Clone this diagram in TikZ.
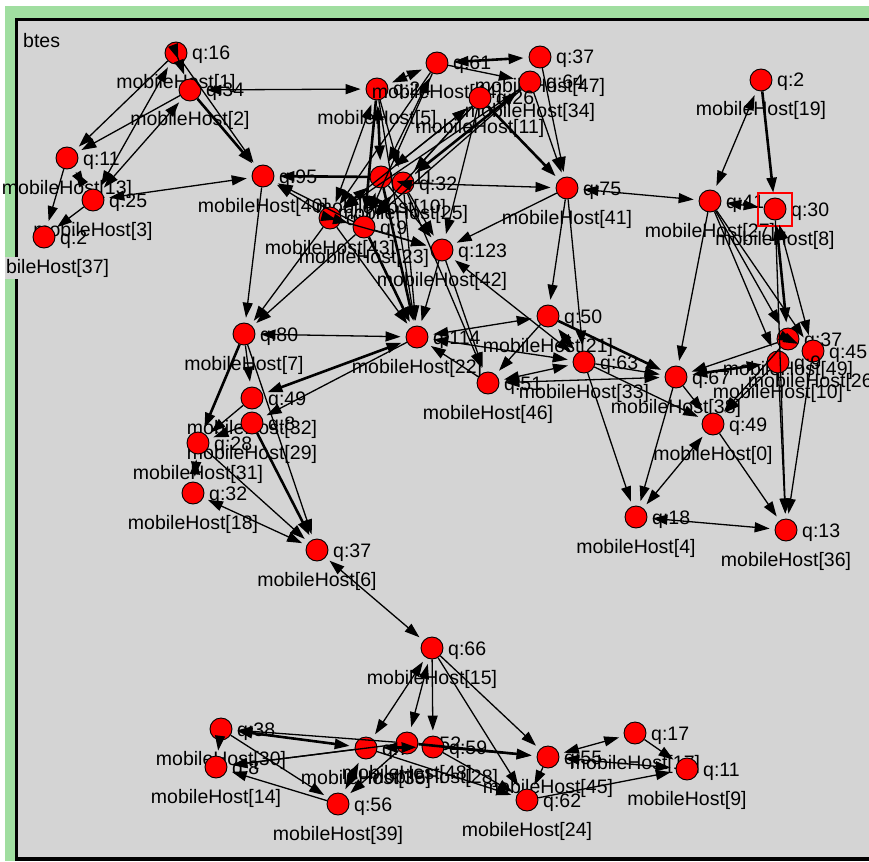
\documentclass[tikz,border=0pt]{standalone}
\usepackage{fontspec}
\setmainfont{Liberation Sans}
\usetikzlibrary{arrows.meta}
\definecolor{bgwin}{RGB}{212,212,212}
\definecolor{frgreen}{RGB}{160,222,160}
\newcommand\hfont{\fontsize{19.5}{20}\selectfont}
\newcommand\hn[5]{%
  \node[hostc] (#1) at (#2,#3) {};
  \node[qlab] (#1q) at (#2+16,#3+7) {#4};
  \node[hlab] (#1h) at (#2,#3+36) {#5};}
\tikzset{
  hostc/.style={circle, fill=red, draw=black, line width=0.9pt, minimum size=22pt, inner sep=0pt},
  qlab/.style={anchor=base west, inner sep=0pt, font=\hfont},
  hlab/.style={anchor=base, inner sep=0pt, font=\hfont},
  ed/.style={line width=1.3pt, -{Triangle[length=15pt,width=10pt]}, shorten >=5pt},
  bd/.style={line width=1.3pt, {Triangle[length=15pt,width=10pt]}-{Triangle[length=15pt,width=10pt]}, shorten >=5pt, shorten <=5pt},
  thk/.style={line width=2.6pt}
}
\begin{document}
\begin{tikzpicture}[x=1pt,y=-1pt]
\useasboundingbox (0,0) rectangle (869,861);
\fill[white] (0,0) rectangle (869,861);
\fill[frgreen] (5,6) rectangle (869,861);
\fill[black] (15,18) rectangle (869,861);
\fill[bgwin] (18,21) rectangle (869,857);
\node[anchor=base west, inner sep=0pt, font=\hfont] (title) at (23,48) {btes};

% ---------- nodes ----------
\hn{n16}{176}{53}{q:16}{mobileHost[1]}
\hn{n34}{190}{90}{q:34}{mobileHost[2]}
\hn{n11}{67}{158}{q:11}{mobileHost[13]}
\hn{n25}{93}{200}{q:25}{mobileHost[3]}
\node[hostc] (n2) at (44,237) {};
\node[qlab] (n2q) at (60,244) {q:2};
\begin{scope}
\clip (5,0) rectangle (869,861);
\node[hlab, fill=bgwin, inner xsep=0pt, inner ysep=2pt] (n2h) at (44,273) {mobileHost[37]};
\end{scope}
\hn{n95}{263}{176}{q:95}{mobileHost[40]}
\hn{n5}{377}{89}{q:24}{mobileHost[5]}
\hn{n61}{437}{63}{q:61}{mobileHost[44]}
\hn{n37}{540}{57}{q:37}{mobileHost[47]}
\hn{n64}{530}{82}{q:64}{mobileHost[34]}
\hn{n11b}{480}{98}{q:26}{mobileHost[11]}
\hn{h1}{381}{177}{q:11}{mobileHost[10]}
\hn{h2}{403}{183}{q:32}{mobileHost[25]}
\hn{h3}{330}{218}{q:4}{mobileHost[43]}
\hn{h4}{364}{227}{q:9}{mobileHost[23]}
\hn{n123}{442}{250}{q:123}{mobileHost[42]}
\hn{n75}{567}{188}{q:75}{mobileHost[41]}
\hn{n19}{761}{80}{q:2}{mobileHost[19]}
\hn{n41}{710}{201}{q:41}{mobileHost[27]}
\hn{n30}{775}{209}{q:30}{mobileHost[8]}
\hn{rc1}{788}{339}{q:37}{mobileHost[49]}
\hn{rc2}{813}{351}{q:45}{mobileHost[26]}
\hn{rc3}{778}{362}{q:9}{mobileHost[10]}
\hn{n80}{244}{334}{q:80}{mobileHost[7]}
\hn{n22}{417}{337}{q:114}{mobileHost[22]}
\hn{n49}{252}{398}{q:49}{mobileHost[32]}
\hn{n48}{252}{423}{q:8}{mobileHost[29]}
\hn{n20}{198}{443}{q:28}{mobileHost[31]}
\hn{n32}{193}{493}{q:32}{mobileHost[18]}
\hn{n37b}{317}{550}{q:37}{mobileHost[6]}
\hn{n46}{488}{383}{q:51}{mobileHost[46]}
\hn{n50}{548}{316}{q:50}{mobileHost[21]}
\hn{n63}{584}{362}{q:63}{mobileHost[33]}
\hn{n67}{676}{377}{q:67}{mobileHost[38]}
\hn{n0}{713}{424}{q:49}{mobileHost[0]}
\hn{n4}{636}{517}{q:18}{mobileHost[4]}
\hn{n36}{786}{530}{q:13}{mobileHost[36]}
\hn{n66}{432}{648}{q:66}{mobileHost[15]}
\hn{n38}{221}{729}{q:38}{mobileHost[30]}
\hn{n8b}{216}{767}{q:8}{mobileHost[14]}
\hn{n56}{338}{804}{q:56}{mobileHost[39]}
\hn{b1}{366}{748}{q:7}{mobileHost[35]}
\hn{b2}{407}{743}{q:52}{mobileHost[48]}
\hn{b3}{433}{747}{q:59}{mobileHost[28]}
\hn{n55}{548}{757}{q:55}{mobileHost[45]}
\hn{n62}{527}{800}{q:62}{mobileHost[24]}
\hn{n17}{635}{733}{q:17}{mobileHost[17]}
\hn{n11c}{687}{769}{q:11}{mobileHost[9]}

\draw[red, line width=1.2pt] (758,193) rectangle (792,226);

% ---------- edges: top left ----------
\draw[bd] (n16) -- (n34);
\draw[ed] (n16) -- (n11);
\draw[ed] (n34) -- (n11);
\draw[bd] (n16) -- (n25);
\draw[bd] (n34) -- (n25);
\draw[ed, thk] (n34) -- (n95);
\draw[ed] (n16) -- (n95);
\draw[bd] (n34) -- (n5);
\draw[bd] (n11) -- (n25);
\draw[ed] (n11) -- (n2);
\draw[ed] (n25) -- (n2);
\draw[bd] (n25) -- (n95);
\draw[ed] (n95) -- (n80);
\draw[ed] (h3) -- (n95);
\draw[ed, thk] (h1) -- (n95);
\draw[ed] (h4) -- (n95);
% ---------- hub ----------
\draw[bd, thk] (n5) -- (h1);
\draw[bd] (n5) -- (h3);
\draw[ed, thk] (n5) -- (h4);
\draw[ed] (n5) -- (n22);
\draw[ed] (n5) -- (h2);
\draw[bd] (n61) -- (h1);
\draw[ed] (n61) -- (h4);
\draw[ed] (n61) -- (h3);
\draw[bd] (n61) -- (n5);
\draw[bd, thk] (n61) -- (n37);
\draw[ed] (n61) -- (n64);
\draw[bd] (n11b) -- (h1);
\draw[bd] (n11b) -- (h3);
\draw[ed] (n11b) -- (h4);
\draw[ed] (n11b) -- (h2);
\draw[ed] (n11b) -- (n123);
\draw[bd, thk] (n64) -- (h2);
\draw[ed] (n64) -- (h3);
\draw[ed] (n64) -- (h4);
\draw[ed] (n37) -- (n75);
\draw[ed] (n64) -- (n75);
\draw[ed, thk] (n11b) -- (n75);
\draw[ed] (h2) -- (n75);
\draw[ed] (h1) -- (n123);
\draw[ed] (h2) -- (n123);
\draw[ed] (h3) -- (n123);
\draw[ed] (h4) -- (n123);
\draw[ed, thk] (h1) -- (n22);
\draw[ed] (h2) -- (n22);
\draw[ed] (h3) -- (n22);
\draw[ed, thk] (h4) -- (n22);
\draw[ed] (h3) -- (n80);
\draw[ed] (h4) -- (n80);
\draw[ed] (h2) -- (n46);
\draw[bd, thk] (h1) -- (h3);
\draw[bd, thk] (h2) -- (h4);
\draw[bd, thk] (h1) -- (h2);
\draw[bd, thk] (h3) -- (h4);
\draw[bd] (h1) -- (h4);
% ---------- middle ----------
\draw[ed] (n75) -- (n123);
\draw[bd] (n75) -- (n41);
\draw[ed] (n75) -- (n50);
\draw[ed] (n75) -- (n63);
\draw[ed] (n123) -- (n22);
\draw[bd] (n123) -- (n63);
\draw[ed] (n123) -- (n46);
\draw[bd] (n50) -- (n22);
\draw[ed] (n50) -- (n46);
\draw[bd] (n50) -- (n63);
\draw[ed, thk] (n50) -- (n67);
\draw[bd] (n63) -- (n46);
\draw[ed] (n63) -- (n67);
\draw[ed] (n63) -- (n4);
\draw[ed] (n46) -- (n22);
\draw[bd] (n63) -- (n22);
\draw[bd] (n46) -- (n67);
\draw[ed] (n63) -- (n0);
% ---------- right ----------
\draw[bd] (n19) -- (n41);
\draw[ed, thk] (n19) -- (n30);
\draw[bd] (n41) -- (n30);
\draw[ed] (n41) -- (n67);
\draw[ed] (n41) -- (rc1);
\draw[ed] (n41) -- (rc3);
\draw[ed] (n41) -- (rc2);
\draw[bd, thk] (n30) -- (rc1);
\draw[ed] (n30) -- (n36);
\draw[bd] (n30) -- (rc2);
\draw[ed] (rc1) -- (n67);
\draw[bd, thk] (rc3) -- (n67);
\draw[ed] (rc3) -- (n0);
\draw[ed] (rc1) -- (n0);
\draw[ed] (rc3) -- (n36);
\draw[ed] (rc2) -- (n36);
\draw[bd] (rc1) -- (rc2);
\draw[ed] (n67) -- (n0);
\draw[ed] (n67) -- (n4);
\draw[bd] (n0) -- (n4);
\draw[ed] (n0) -- (n36);
\draw[bd] (n4) -- (n36);
% ---------- left middle ----------
\draw[bd] (n80) -- (n22);
\draw[bd, thk] (n22) -- (n49);
\draw[ed] (n22) -- (n48);
\draw[ed] (n80) -- (n49);
\draw[ed, thk] (n80) -- (n20);
\draw[ed] (n49) -- (n20);
\draw[ed] (n48) -- (n20);
\draw[ed, thk] (n48) -- (n37b);
\draw[ed] (n80) -- (n37b);
\draw[ed] (n20) -- (n37b);
\draw[bd] (n32) -- (n37b);
\draw[bd] (n20) -- (n32);
\draw[bd] (n37b) -- (n66);
% ---------- bottom ----------
\draw[bd] (n66) -- (b1);
\draw[bd] (n66) -- (b2);
\draw[ed] (n66) -- (b3);
\draw[ed] (n66) -- (n55);
\draw[ed] (n66) -- (n62);
\draw[bd, thk] (b1) -- (n38);
\draw[ed] (b2) -- (n38);
\draw[ed] (b1) -- (n8b);
\draw[ed] (b2) -- (n8b);
\draw[bd] (b1) -- (n56);
\draw[ed] (b2) -- (n56);
\draw[ed] (n38) -- (n8b);
\draw[ed] (n38) -- (n56);
\draw[ed] (n56) -- (n8b);
\draw[ed, thk] (b2) -- (n55);
\draw[ed] (b3) -- (n55);
\draw[ed] (b3) -- (n62);
\draw[ed] (b1) -- (n62);
\draw[bd, thk] (b1) -- (b3);
\draw[bd] (n55) -- (n17);
\draw[bd] (n55) -- (n11c);
\draw[ed] (n17) -- (n11c);
\draw[ed] (n55) -- (n62);
\draw[ed] (n62) -- (n11c);
\end{tikzpicture}
\end{document}
